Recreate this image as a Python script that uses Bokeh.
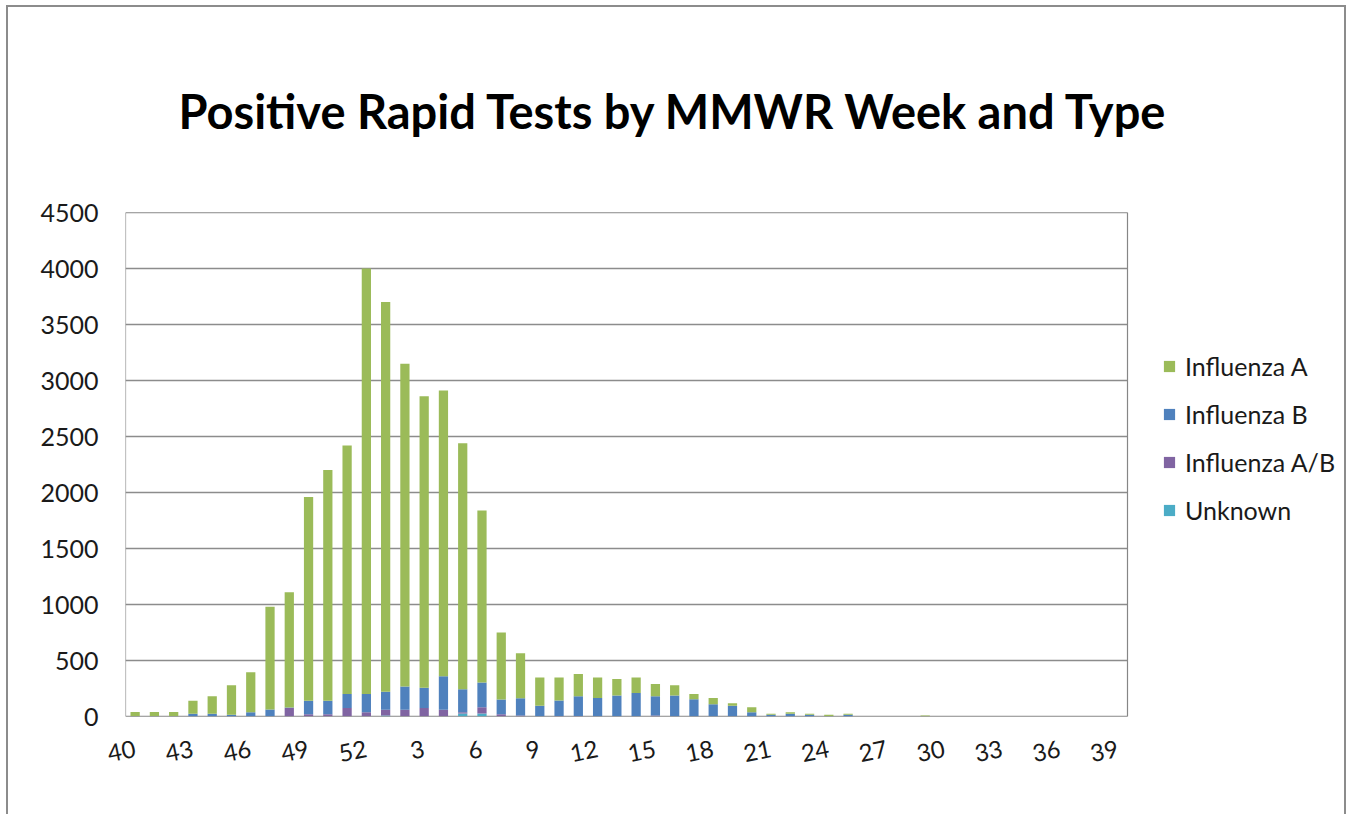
from bokeh.plotting import figure
from bokeh.models import (FixedTicker, Range1d, Legend, LegendItem,
                          ColumnDataSource)
from bokeh.embed import file_html
from bokeh.resources import INLINE

# ---------------- data ----------------
weeks = [str(w) for w in list(range(40, 53)) + list(range(1, 40))]

flu_a = [37, 37, 37, 115, 155, 265, 357, 918, 1030, 1820,
         2060, 2220, 3800, 3480, 2882, 2604, 2550, 2196, 1537, 598,
         402, 253, 205, 200, 183, 147, 138, 110, 92, 45,
         55, 24, 45, 9, 13, 9, 12, 10, 0, 0,
         0, 10, 0, 0, 0, 0, 0, 0, 0, 0,
         0, 0]
flu_b = [3, 3, 3, 25, 25, 15, 38, 62, 5, 120,
         120, 125, 162, 160, 208, 181, 300, 206, 220, 132,
         153, 95, 138, 175, 165, 188, 210, 172, 188, 155,
         110, 95, 38, 15, 25, 15, 3, 15, 0, 0,
         0, 0, 0, 0, 0, 0, 0, 0, 0, 0,
         0, 0]
flu_ab = [0, 0, 0, 0, 0, 0, 0, 0, 75, 20,
          20, 75, 38, 50, 60, 75, 60, 11, 56, 20,
          10, 0, 5, 5, 0, 0, 0, 8, 0, 0,
          0, 0, 0, 0, 0, 0, 0, 0, 0, 0,
          0, 0, 0, 0, 0, 0, 0, 0, 0, 0,
          0, 0]
unknown = [0, 0, 0, 0, 0, 0, 0, 0, 0, 0,
           0, 0, 0, 10, 0, 0, 0, 27, 27, 0,
           0, 0, 0, 0, 0, 0, 0, 0, 0, 0,
           0, 0, 0, 0, 0, 0, 0, 0, 0, 0,
           0, 0, 0, 0, 0, 0, 0, 0, 0, 0,
           0, 0]
series_names = ["Influenza A", "Influenza B", "Influenza A/B", "Unknown"]
y_ticks = [0, 500, 1000, 1500, 2000, 2500, 3000, 3500, 4000, 4500]
y_max = 4500
label_step = 3
chart_title = "Positive Rapid Tests by MMWR Week and Type"

colors = {"Influenza A": "#9BBB59", "Influenza B": "#4F81BD",
          "Influenza A/B": "#8064A2", "Unknown": "#4BACC6"}

FONT = "Lato"
GRID = "#8c8c8c"

n = len(weeks)
# the plotting frame also spans the legend column on the right;
# the bar area itself is the first n categories
WIDTH = 1340
LEFT = 117
FRAME_W = WIDTH - LEFT
BAR_AREA_W = 1002
x_end = -0.5 + n * FRAME_W / BAR_AREA_W

src = ColumnDataSource(dict(
    x=list(range(n)),
    unk=unknown, ab=flu_ab, b=flu_b, a=flu_a,
))

p = figure(width=WIDTH, height=809,
           min_border_left=LEFT, min_border_top=205, min_border_right=0,
           min_border_bottom=100,
           x_range=Range1d(-0.5, x_end),
           y_range=Range1d(0, y_max),
           output_backend="svg", toolbar_location=None,
           background_fill_color="white", border_fill_color="white")
p.styles = {"border": "2px solid #8c8c8c", "border-bottom": "none",
            "margin": "5px 0 0 6px"}
p.outline_line_color = None
p.xgrid.grid_line_color = None
p.ygrid.grid_line_color = None

# horizontal gridlines limited to the bar area
p.segment(x0=[-0.5] * len(y_ticks), x1=[n - 0.5] * len(y_ticks),
          y0=y_ticks, y1=y_ticks, line_color=GRID, line_width=1.5)

renderers = p.vbar_stack(["unk", "ab", "b", "a"], x="x", width=0.48,
                         source=src,
                         color=[colors["Unknown"], colors["Influenza A/B"],
                                colors["Influenza B"], colors["Influenza A"]],
                         line_color=None)
r_unk, r_ab, r_b, r_a = renderers

# plot-area box
p.quad(left=[-0.5], right=[n - 0.5], bottom=[0], top=[y_max],
       fill_color=None, line_color="#868686", line_width=1.2)

# axes
p.xaxis.ticker = FixedTicker(ticks=list(range(0, n, label_step)))
p.xaxis.major_label_overrides = {i: weeks[i] for i in range(0, n, label_step)}
p.xaxis.major_label_orientation = 0.2
p.xaxis.major_tick_line_color = None
p.xaxis.minor_tick_line_color = None
p.xaxis.axis_line_color = None
p.xaxis.major_label_text_font = FONT
p.xaxis.major_label_text_font_size = "24px"
p.xaxis.major_label_text_color = "#1a1a1a"
p.xaxis.major_label_standoff = 26

p.yaxis.ticker = FixedTicker(ticks=y_ticks)
p.yaxis.major_tick_line_color = None
p.yaxis.minor_tick_line_color = None
p.yaxis.axis_line_color = None
p.yaxis.major_label_text_font = FONT
p.yaxis.major_label_text_font_size = "25px"
p.yaxis.major_label_text_color = "#1a1a1a"
p.yaxis.major_label_standoff = 21

# title
p.title.text = chart_title
p.title.text_font = FONT
p.title.text_font_style = "bold"
p.title.text_font_size = "47px"
p.title.text_color = "black"
p.title.align = "left"
p.title.offset = 53
p.title.standoff = 147

# legend
items = [LegendItem(label="Influenza A", renderers=[r_a]),
         LegendItem(label="Influenza B", renderers=[r_b]),
         LegendItem(label="Influenza A/B", renderers=[r_ab]),
         LegendItem(label="Unknown", renderers=[r_unk])]
legend = Legend(items=items, location=(1037, 191), padding=0, margin=0,
                border_line_color=None, background_fill_alpha=0,
                glyph_width=14, glyph_height=14, label_height=30,
                spacing=18, label_standoff=9,
                label_text_font=FONT, label_text_font_size="25px",
                label_text_color="#1a1a1a")
p.add_layout(legend)

open("out.html", "w").write(file_html(p, INLINE))
